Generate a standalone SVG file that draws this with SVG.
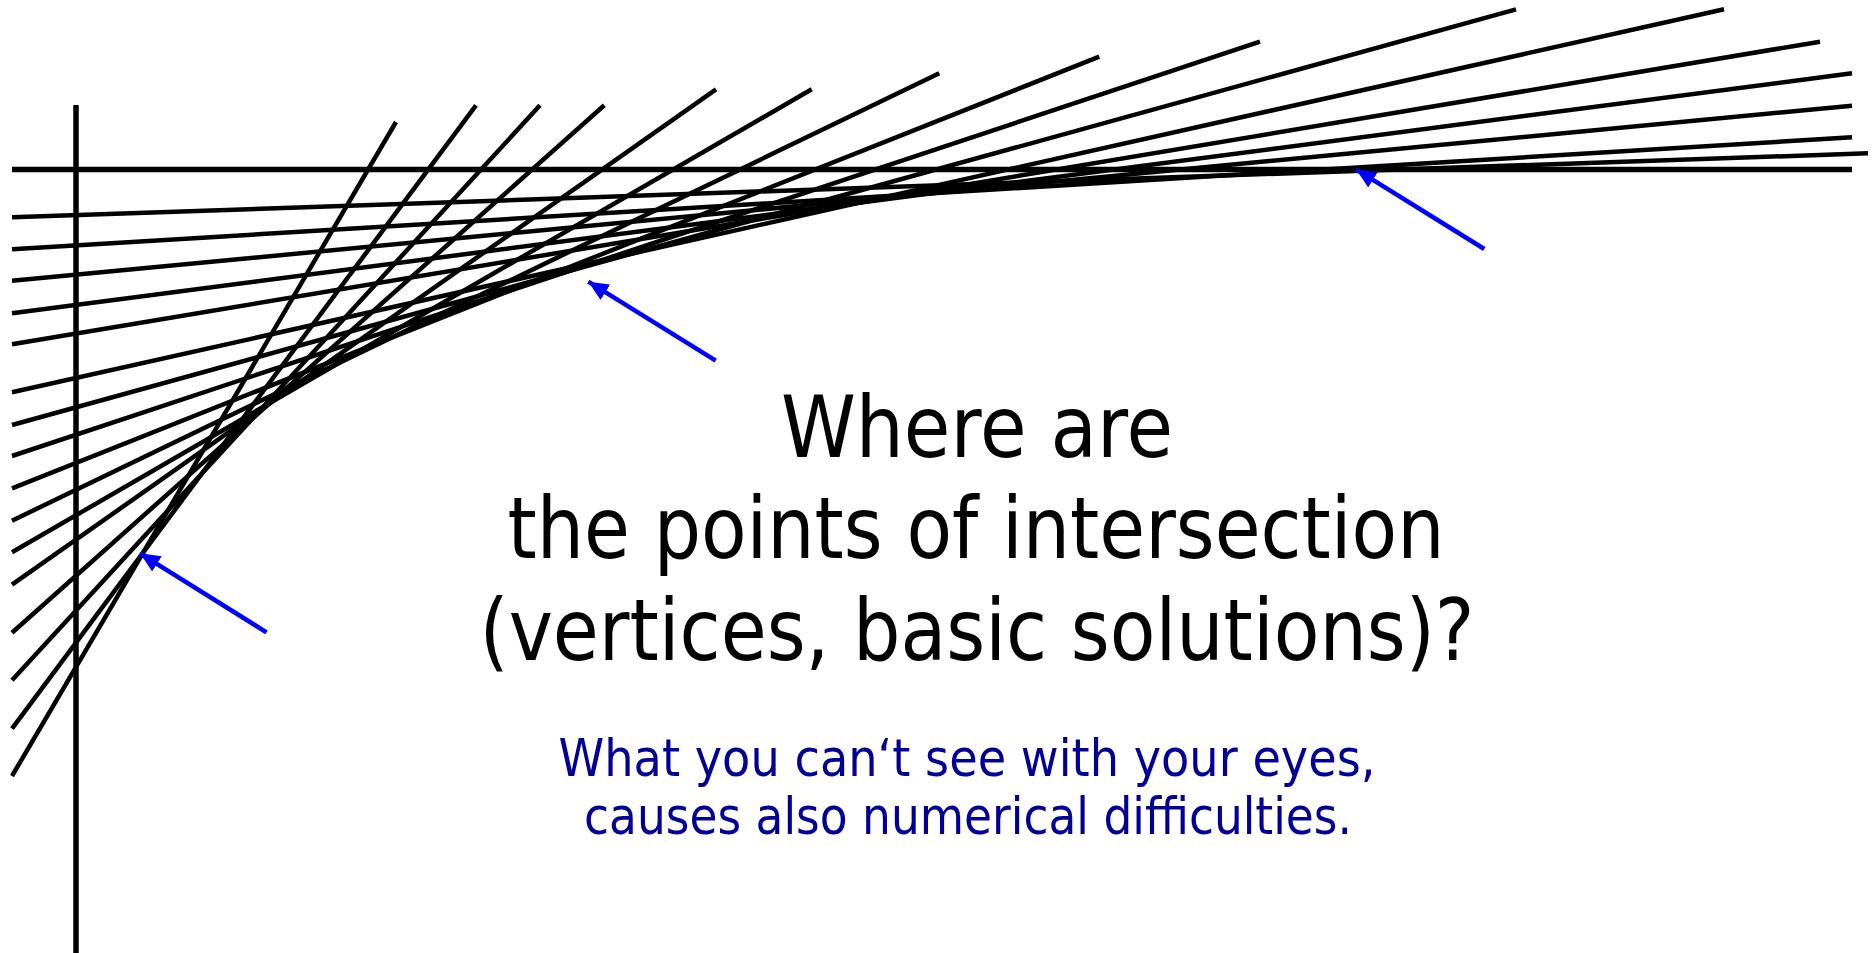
<svg xmlns="http://www.w3.org/2000/svg" width="1874" height="953" viewBox="0 0 1874 953">
<style>
.ln{stroke:#000;stroke-width:4.5;fill:none}
.ax{stroke:#000;stroke-width:5.5;fill:none}
.ar{stroke:#0000ff;stroke-width:4.5;fill:none}
.t1{font-family:"DejaVu Sans","Liberation Sans",sans-serif;font-size:86px;fill:#000}
.t2{font-family:"DejaVu Sans","Liberation Sans",sans-serif;font-size:52px;fill:#000099}
</style>
<defs>
<marker id="ah" markerUnits="userSpaceOnUse" markerWidth="22" markerHeight="18" refX="20" refY="9" orient="auto">
<path d="M0,0 L20,9 L0,18 Z" fill="#0000ff"/>
</marker>
</defs>
<rect width="1874" height="953" fill="#fff"/>
<g id="axes">
<line class="ax" x1="76" y1="105" x2="76" y2="953"/>
<line class="ax" x1="12" y1="169.5" x2="1852" y2="169.5"/>
</g>
<g id="lines">
<line class="ln" x1="12" y1="776" x2="396" y2="122"/>
<line class="ln" x1="12" y1="728.7" x2="476" y2="105.3"/>
<line class="ln" x1="12" y1="680.3" x2="540" y2="105.3"/>
<line class="ln" x1="12" y1="632.7" x2="604.3" y2="105.3"/>
<line class="ln" x1="12" y1="584.7" x2="716" y2="89.3"/>
<line class="ln" x1="12" y1="552.3" x2="811.7" y2="89.3"/>
<line class="ln" x1="12" y1="520.7" x2="939.3" y2="73.3"/>
<line class="ln" x1="12" y1="488.3" x2="1099.3" y2="56.7"/>
<line class="ln" x1="12" y1="456" x2="1260" y2="41.7"/>
<line class="ln" x1="12" y1="425" x2="1516" y2="9.3"/>
<line class="ln" x1="12" y1="392.3" x2="1724" y2="9.3"/>
<line class="ln" x1="12" y1="344.3" x2="1820" y2="41.7"/>
<line class="ln" x1="12" y1="313.3" x2="1852" y2="73.3"/>
<line class="ln" x1="12" y1="280.7" x2="1852" y2="105.7"/>
<line class="ln" x1="12" y1="249.3" x2="1852" y2="137.3"/>
<line class="ln" x1="12" y1="217.3" x2="1868" y2="153.3"/>
</g>
<g id="arrows">
<line class="ar" x1="715.7" y1="360.7" x2="588.3" y2="281.7" marker-end="url(#ah)"/>
<line class="ar" x1="1484.3" y1="249" x2="1356" y2="169.3" marker-end="url(#ah)"/>
<line class="ar" x1="266.5" y1="632.3" x2="140" y2="553.3" marker-end="url(#ah)"/>
</g>
<g id="title">
<text class="t1" x="977" y="456.7" text-anchor="middle" textLength="392" lengthAdjust="spacingAndGlyphs">Where are</text>
<text class="t1" x="976" y="558.3" text-anchor="middle" textLength="937" lengthAdjust="spacingAndGlyphs">the points of intersection</text>
<text class="t1" x="977" y="660" text-anchor="middle" textLength="995" lengthAdjust="spacingAndGlyphs">(vertices, basic solutions)?</text>
</g>
<g id="subtitle">
<text class="t2" x="967" y="776" text-anchor="middle" textLength="817" lengthAdjust="spacingAndGlyphs">What you can‘t see with your eyes,</text>
<text class="t2" x="968" y="834" text-anchor="middle" textLength="768" lengthAdjust="spacingAndGlyphs">causes also numerical difficulties.</text>
</g>
</svg>
